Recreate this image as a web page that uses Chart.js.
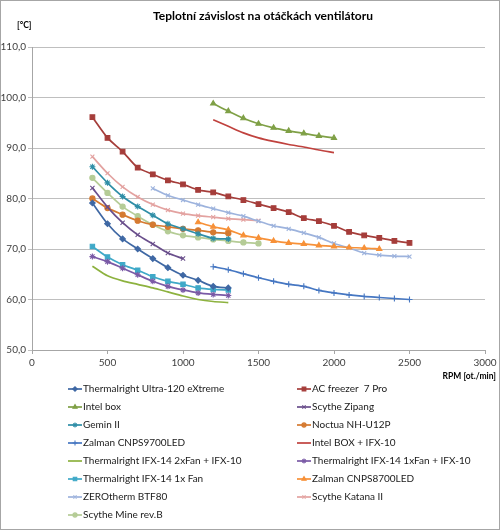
<!DOCTYPE html>
<html>
<head>
<meta charset="utf-8">
<script src="https://cdn.jsdelivr.net/npm/chart.js@4"></script>
<style>
  html,body{margin:0;padding:0;background:#fff}
  #wrap{width:500px;height:530px;position:relative}
</style>
</head>
<body>
<div id="wrap"><canvas id="c" width="500" height="530"></canvas></div>
<script>
// rpm values (x) used by the series
const rpmA = [400,500,600,700,800,900,1000,1100,1200,1300];
const rpmB = [400,500,600,700,800,900,1000,1100,1200,1300,1400,1500];
const rpmC = [400,500,600,700,800,900,1000];
const rpmD = [400,500,600,700,800,900,1000,1100,1200,1300,1400,1500,1600,1700,1800,1900,2000,2100,2200,2300,2400,2500];
const rpmE = [1200,1300,1400,1500,1600,1700,1800,1900,2000];
const rpmF = [1200,1300,1400,1500,1600,1700,1800,1900,2000,2100,2200,2300,2400,2500];
const rpmG = [1100,1200,1300,1400,1500,1600,1700,1800,1900,2000,2100,2200,2300];
const rpmH = [800,900,1000,1100,1200,1300,1400,1500,1600,1700,1800,1900,2000,2100,2200,2300,2400,2500];

// temperatures [°C]
const ultra120   = [79.1,75.0,72.0,70.0,68.1,66.3,64.8,63.8,62.6,62.3];
const acFreezer  = [96.1,92.0,89.3,86.1,84.8,83.6,82.8,81.7,81.2,80.4,79.7,78.9,78.1,77.3,76.1,75.5,74.6,73.4,72.7,72.2,71.6,71.2];
const intelBox   = [98.8,97.3,95.9,94.8,94.0,93.4,92.9,92.4,92.0];
const zipang     = [82.1,78.3,75.2,72.8,71.0,69.2,68.1];
const gemin      = [86.3,83.1,80.4,78.4,76.7,75.0,74.0,73.0,72.1,72.0];
const noctua     = [80.0,78.1,76.8,75.6,74.8,74.4,74.0,73.7,73.3,73.1];
const zalman9700 = [66.5,65.9,65.1,64.3,63.6,63.0,62.6,61.8,61.3,60.9,60.6,60.4,60.2,60.0];
const intelIfx   = [95.6,94.3,93.0,92.0,91.3,90.7,90.2,89.6,89.1];
const ifx2fanIfx = [66.6,64.7,63.7,63.0,62.3,61.5,60.7,60.0,59.6,59.4];
const ifx1fanIfx = [68.5,67.5,66.2,64.9,63.6,62.6,61.9,61.3,61.0,60.8];
const ifx1fan    = [70.5,68.4,66.9,65.8,64.5,63.6,63.0,62.3,62.0,61.9];
const zalman8700 = [75.3,74.4,73.8,72.7,72.2,71.6,71.2,71.0,70.7,70.5,70.3,70.2,70.0];
const zerotherm  = [82.0,80.6,79.7,78.8,78.0,77.2,76.5,75.5,74.6,74.0,73.2,72.3,71.1,70.2,69.2,68.8,68.6,68.5];
const katana     = [88.3,85.0,82.3,80.3,78.8,77.7,77.0,76.6,76.3,76.0,75.8,75.6];
const mine       = [84.1,81.1,78.4,76.5,74.8,73.5,72.7,72.3,71.9,71.6,71.3,71.1];

const xTicks = [0,500,1000,1500,2000,2500,3000];
const yTicks = [50,60,70,80,90,100,110];

const title = 'Teplotní závislost na otáčkách ventilátoru';
const yTitle = '[°C]';
const xTitle = 'RPM [ot./min]';

const FONT = 'Lato, "Open Sans", sans-serif';

function pts(xs, ys){ return ys.map((y,i)=>({x:xs[i], y:y})) }

const series = [
  {name:'Thermalright Ultra-120 eXtreme', x:rpmA, y:ultra120,   color:'#3F68A4', style:'rectRot',  r:2.8},
  {name:'AC freezer  7 Pro',              x:rpmD, y:acFreezer,  color:'#A53D3A', style:'rect',     r:3.3},
  {name:'Intel box',                      x:rpmE, y:intelBox,   color:'#7FA046', style:'triangle', r:3},
  {name:'Scythe Zipang',                  x:rpmC, y:zipang,     color:'#6A4F8C', style:'crossRot', r:3},
  {name:'Gemin II',                       x:rpmA, y:gemin,      color:'#2F8EA7', style:'star',     r:3},
  {name:'Noctua NH-U12P',                 x:rpmA, y:noctua,     color:'#D57A31', style:'circle',   r:2.6},
  {name:'Zalman CNPS9700LED',             x:rpmF, y:zalman9700, color:'#4677C2', style:'cross',    r:3},
  {name:'Intel BOX + IFX-10',             x:rpmE, y:intelIfx,   color:'#C0423E', style:'circle',   r:0},
  {name:'Thermalright IFX-14 2xFan + IFX-10', x:rpmA, y:ifx2fanIfx, color:'#8DB23F', style:'circle', r:0},
  {name:'Thermalright IFX-14 1xFan + IFX-10', x:rpmA, y:ifx1fanIfx, color:'#7A5AA6', style:'star', r:3},
  {name:'Thermalright IFX-14 1x Fan',     x:rpmA, y:ifx1fan,    color:'#3FA9C8', style:'rect',     r:3.1},
  {name:'Zalman CNPS8700LED',             x:rpmG, y:zalman8700, color:'#F79138', style:'triangle', r:3},
  {name:'ZEROtherm BTF80',                x:rpmH, y:zerotherm,  color:'#9DB3DD', style:'crossRot', r:2.8},
  {name:'Scythe Katana II',               x:rpmB, y:katana,     color:'#E3A2A0', style:'crossRot', r:2.8},
  {name:'Scythe Mine rev.B',              x:rpmB, y:mine,       color:'#B5CC96', style:'circle',   r:2.6},
];

const datasets = series.map(s=>({
  label: s.name,
  data: pts(s.x, s.y),
  borderColor: s.color,
  backgroundColor: s.color,
  borderWidth: 1.7,
  pointStyle: s.style,
  pointRadius: s.r,
  pointBorderWidth: 1.1,
  tension: 0.25,
}));

// frame, titles and a two column legend drawn on the canvas
const decor = {
  id:'decor',
  beforeDraw(chart){ chart.ctx.fillStyle = '#fff'; chart.ctx.fillRect(0,0,500,530); },
  afterDraw(chart){
    const ctx = chart.ctx;
    ctx.save();
    ctx.strokeStyle = '#A6A6A6'; ctx.lineWidth = 1;
    ctx.strokeRect(0.5,0.5,499,529);
    ctx.fillStyle = '#000';
    ctx.textBaseline = 'middle';
    ctx.font = 'bold 12px ' + FONT;
    ctx.textAlign = 'center';
    ctx.fillText(title, 263, 16);
    ctx.font = 'bold 8.5px ' + FONT;
    ctx.textAlign = 'left';
    ctx.fillText(yTitle, 17, 25);
    ctx.textAlign = 'right';
    ctx.fillText(xTitle, 496, 376);
    ctx.font = '10px ' + FONT;
    ctx.textAlign = 'left';
    chart.data.datasets.forEach((ds,i)=>{
      const col = i % 2, row = Math.floor(i/2);
      const x0 = col ? 297 : 68;
      const y = 389 + row*18;
      ctx.strokeStyle = ds.borderColor; ctx.fillStyle = ds.borderColor; ctx.lineWidth = 1.7;
      ctx.beginPath(); ctx.moveTo(x0, y); ctx.lineTo(x0+14, y); ctx.stroke();
      if(ds.pointRadius > 0){
        ctx.lineWidth = 1.1;
        Chart.helpers.drawPoint(ctx, {pointStyle: ds.pointStyle, radius: ds.pointRadius*0.8, borderWidth: 1.1, rotation: 0}, x0+7, y);
      }
      ctx.fillStyle = '#1a1a1a';
      ctx.fillText(ds.label, x0+15, y);
    });
    ctx.restore();
  }
};

new Chart(document.getElementById('c'), {
  type:'line',
  data:{datasets},
  plugins:[decor],
  options:{
    responsive:false,
    animation:false,
    layout:{padding:{top:47,left:0,right:15,bottom:0}},
    plugins:{legend:{display:false}, title:{display:false}, tooltip:{enabled:false}},
    scales:{
      x:{
        type:'linear', min:0, max:3000,
        afterBuildTicks: s=>{ s.ticks = xTicks.map(v=>({value:v})) },
        afterFit: s=>{ s.height = 180 },
        grid:{drawOnChartArea:false, color:'#A6A6A6', tickLength:4},
        border:{color:'#A6A6A6'},
        ticks:{color:'#404040', font:{family:FONT, size:10}, padding:3, maxRotation:0,
          callback: v=>String(v)}
      },
      y:{
        min:50, max:110,
        afterBuildTicks: s=>{ s.ticks = yTicks.map(v=>({value:v})) },
        afterFit: s=>{ s.width = 32 },
        grid:{color:'#BFBFBF', tickLength:4},
        border:{color:'#A6A6A6'},
        ticks:{color:'#404040', font:{family:FONT, size:10}, padding:2,
          callback: v=>v.toFixed(1).replace('.',',')}
      }
    }
  }
});
</script>
</body>
</html>
